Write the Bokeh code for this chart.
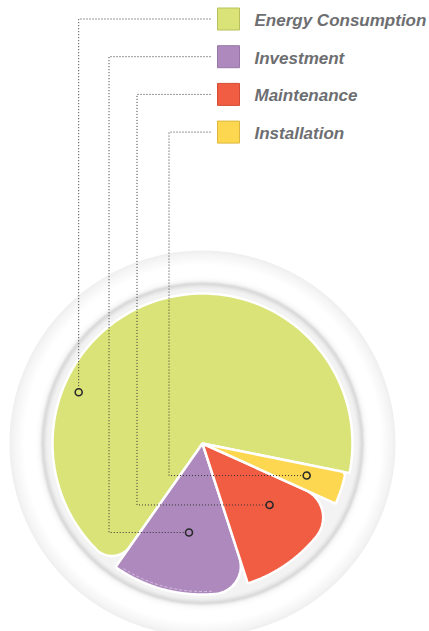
import numpy as np
from bokeh.plotting import figure
from bokeh.models import Range1d
from bokeh.core.properties import value
from bokeh.embed import file_html
from bokeh.resources import INLINE

# ---------------- data ----------------
categories = ["Energy Consumption", "Investment", "Maintenance", "Installation"]
shares = [68.4, 14.75, 13.25, 3.6]          # percent of total cost
colors = ["#dae377", "#ae89be", "#f05d43", "#fed751"]
border_colors = ["#b8bf5c", "#9677a6", "#d44c33", "#dcb73f"]

# ---------------- layout (pixels, y up) ----------------
W, H = 429, 631
X0, Y0 = 0, 0
CX, CY = 202.0, 631 - 443.0
START_DEG = -11.4
SLICE_R = [150, 151, 147, 146]
FILLET = [22, 28, 30, 4]
MARK_FRAC = [0.686, 0.5, 0.62, 0.56]
MARK_R = [134, 90, 91, 109]
ELBOW_X = [None, 108.5, 136.5, 168.5]
LEG_SQ_X = 228
LEG_TXT_X = 254
LEG_Y_TOP = 631 - 18.5
LEG_DY = 37.7
LEADER_END_X = 210

p = figure(width=W, height=H, x_range=Range1d(X0, X0 + W), y_range=Range1d(Y0, Y0 + H),
           output_backend="svg", toolbar_location=None, min_border=0)
p.axis.visible = False
p.grid.visible = False
p.outline_line_color = None
p.background_fill_color = "white"
p.border_fill_color = "white"

# ---------------- background rings ----------------
rr, cc = [], []
def g(level):
    level = int(round(max(0, min(255, level))))
    return "#%02x%02x%02x" % (level, level, level)
for r in np.arange(193, 179, -1.0):
    rr.append(r); cc.append(g(239 + (255 - 239) * ((193 - r) / 14) ** 0.8))
rr.append(179); cc.append(g(255))
for r, lv in [(167, 253), (165, 250), (163.5, 246), (162.5, 239), (161.5, 228), (160.5, 218),
              (159.5, 220), (158.5, 227), (157.5, 233), (156.5, 238), (155.5, 241), (154.5, 243)]:
    rr.append(r); cc.append(g(lv))
p.circle(x=[CX] * len(rr), y=[CY] * len(rr), radius=rr, fill_color=cc, line_color=None)

# ---------------- pie slices with rounded corner ----------------
def slice_poly(a0, a1, r, rc, n=120):
    d = np.arcsin(rc / (r - rc))
    arc = np.linspace(a0, a1 - d, n)
    xs = [0.0] + list(r * np.cos(arc))
    ys = [0.0] + list(r * np.sin(arc))
    ccx, ccy = (r - rc) * np.cos(a1 - d), (r - rc) * np.sin(a1 - d)
    f = np.linspace(a1 - d, a1 + np.pi / 2, 40)
    xs += list(ccx + rc * np.cos(f))
    ys += list(ccy + rc * np.sin(f))
    return list(CX + np.array(xs)), list(CY + np.array(ys))

total = float(sum(shares))
angles = [np.radians(START_DEG)]
for s in shares:
    angles.append(angles[-1] + 2 * np.pi * s / total)

px, py, mx, my = [], [], [], []
for i in range(len(shares)):
    a0, a1 = angles[i], angles[i + 1]
    xs, ys = slice_poly(a0, a1, SLICE_R[i], FILLET[i])
    px.append(xs); py.append(ys)
    am = a0 + MARK_FRAC[i] * (a1 - a0)
    mx.append(CX + MARK_R[i] * np.cos(am))
    my.append(CY + MARK_R[i] * np.sin(am))

p.patches(xs=px, ys=py, fill_color=colors, line_color="white", line_width=2.5)
# faint inner highlight on purple arc
a0, a1 = angles[1], angles[2]
hl = np.linspace(a0 + 0.05, a1 - 0.25, 60)
p.line(x=CX + (SLICE_R[1] - 3) * np.cos(hl), y=CY + (SLICE_R[1] - 3) * np.sin(hl),
       line_color="#d6c2df", line_width=1, line_dash="3 2")

# ---------------- leader lines ----------------
leg_y = [LEG_Y_TOP - i * LEG_DY for i in range(len(categories))]
lx, ly = [], []
for i in range(len(categories)):
    ex = mx[i] if ELBOW_X[i] is None else ELBOW_X[i]
    lx.append([LEADER_END_X, ex, ex, mx[i]])
    ly.append([leg_y[i], leg_y[i], my[i], my[i]])
p.multi_line(xs=lx, ys=ly, line_color="#333333", line_width=1, line_dash="1 2")

p.scatter(x=mx, y=my, marker="circle", size=7, fill_color=colors,
          line_color="#2a2a2a", line_width=1.6)

# ---------------- legend ----------------
p.rect(x=[LEG_SQ_X] * 4, y=leg_y, width=22, height=22, fill_color=colors,
       line_color=border_colors, line_width=1)
p.text(x=[LEG_TXT_X] * 4, y=[y - 1.5 for y in leg_y], text=categories,
       text_font=value("Liberation Sans"), text_font_style="bold italic",
       text_font_size="17px", text_color="#6d6e71", text_baseline="middle",
       text_align="left")

open("out.html", "w").write(file_html(p, INLINE))
